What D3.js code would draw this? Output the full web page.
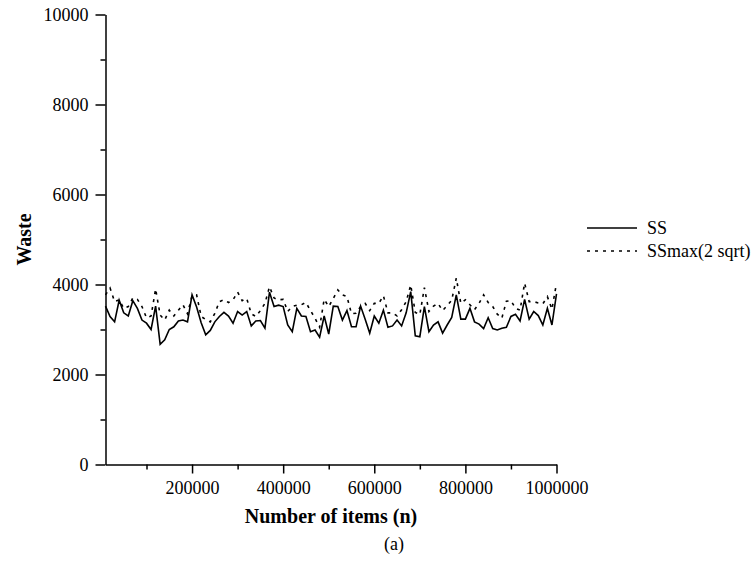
<!DOCTYPE html>
<html>
  <head>
    <meta charset="utf-8">
    <script src="https://d3js.org/d3.v7.min.js"></script>
    <style>
      body { margin: 0; background: #fff; }
      svg text { font-family: "Liberation Serif", "Times New Roman", serif; fill: #000; }
      .axis path, .axis line { stroke: #000; stroke-width: 1.5; }
      .axis text { font-size: 18px; }
    </style>
  </head>
<body>
<script>
// number of items, every 10000 from 10000 to 1000000
var items = d3.range(1, 101).map(function(i) { return i * 10000; });

var ssWaste = [
  3520, 3290, 3170, 3650, 3370, 3300, 3640, 3470, 3210, 3140,
  3000, 3520, 2670, 2770, 3000, 3060, 3190, 3210, 3170, 3770,
  3500, 3150, 2880, 2980, 3170, 3290, 3380, 3300, 3140, 3400,
  3320, 3400, 3080, 3190, 3200, 3030, 3830, 3510, 3540, 3510,
  3100, 2950, 3470, 3300, 3290, 2950, 2990, 2830, 3300, 2900,
  3520, 3510, 3210, 3420, 3060, 3060, 3520, 3230, 2920, 3300,
  3140, 3430, 3050, 3080, 3210, 3080, 3370, 3840, 2860, 2840,
  3510, 2950, 3100, 3170, 2920, 3100, 3270, 3770, 3230, 3230,
  3470, 3170, 3120, 3020, 3260, 3020, 2990, 3030, 3050, 3290,
  3340, 3190, 3670, 3230, 3400, 3310, 3100, 3470, 3100, 3790
];

var ssMaxWaste = [
  3770, 3920, 3620, 3660, 3470, 3510, 3700, 3670, 3510, 3260,
  3300, 3900, 3320, 3210, 3430, 3300, 3430, 3550, 3350, 3750,
  3770, 3290, 3220, 3170, 3360, 3620, 3660, 3600, 3660, 3830,
  3640, 3690, 3350, 3290, 3420, 3580, 3950, 3700, 3660, 3670,
  3400, 3510, 3540, 3550, 3600, 3420, 3250, 3050, 3670, 3510,
  3690, 3880, 3770, 3730, 3350, 3360, 3510, 3580, 3420, 3580,
  3580, 3750, 3370, 3370, 3300, 3440, 3620, 3990, 3380, 3330,
  3930, 3400, 3520, 3580, 3420, 3530, 3650, 4140, 3580, 3660,
  3550, 3440, 3580, 3770, 3600, 3510, 3340, 3250, 3630, 3640,
  3470, 3430, 4030, 3620, 3620, 3590, 3570, 3730, 3450, 4030
];

var xMajor = [200000, 400000, 600000, 800000, 1000000];
var xMinor = [100000, 300000, 500000, 700000, 900000];
var yMajor = [0, 2000, 4000, 6000, 8000, 10000];
var yMinor = [1000, 3000, 5000, 7000, 9000];

var series = [
  {name: "SS", values: ssWaste, dash: null},
  {name: "SSmax(2 sqrt)", values: ssMaxWaste, dash: "3,5"}
];

var width = 756, height = 561;
var plotLeft = 105.5, plotRight = 556.5, plotTop = 14.5, plotBottom = 464.5;

var svg = d3.select("body").append("svg")
    .attr("width", width)
    .attr("height", height);

var x = d3.scaleLinear().domain([10000, 1000000]).range([plotLeft, plotRight]);
var y = d3.scaleLinear().domain([0, 10000]).range([plotBottom, plotTop]);

// minor ticks first
svg.append("g").attr("class", "axis")
    .attr("transform", "translate(0," + plotBottom + ")")
    .call(d3.axisBottom(x).tickValues(xMinor).tickSize(5).tickSizeOuter(0).tickFormat(""))
    .select(".domain").remove();
svg.append("g").attr("class", "axis")
    .attr("transform", "translate(" + plotLeft + ",0)")
    .call(d3.axisLeft(y).tickValues(yMinor).tickSize(5).tickSizeOuter(0).tickFormat(""))
    .select(".domain").remove();

svg.append("g").attr("class", "axis")
    .attr("transform", "translate(0," + plotBottom + ")")
    .call(d3.axisBottom(x).tickValues(xMajor).tickSize(9).tickSizeOuter(0).tickPadding(8).tickFormat(d3.format("d")));
svg.append("g").attr("class", "axis")
    .attr("transform", "translate(" + plotLeft + ",0)")
    .call(d3.axisLeft(y).tickValues(yMajor).tickSize(10).tickSizeOuter(0).tickPadding(7).tickFormat(d3.format("d")));

var line = d3.line()
    .x(function(d, i) { return x(items[i]); })
    .y(function(d) { return y(d); });

svg.selectAll("path.series")
    .data(series)
    .enter().append("path")
    .attr("class", "series")
    .attr("fill", "none")
    .attr("stroke", "#000")
    .attr("stroke-width", 1.6)
    .attr("stroke-linejoin", "miter")
    .attr("stroke-dasharray", function(d) { return d.dash; })
    .attr("d", function(d) { return line(d.values); });

// legend
var legend = svg.selectAll("g.legend")
    .data(series)
    .enter().append("g")
    .attr("class", "legend")
    .attr("transform", function(d, i) { return "translate(587," + (228 + i * 23) + ")"; });
legend.append("line")
    .attr("x1", 0).attr("x2", 50)
    .attr("stroke", "#000")
    .attr("stroke-width", 1.6)
    .attr("stroke-dasharray", function(d) { return d.dash; });
legend.append("text")
    .attr("x", 60).attr("y", 5.5)
    .style("font-size", "18px")
    .text(function(d) { return d.name; });

svg.append("text")
    .attr("x", (plotLeft + plotRight) / 2)
    .attr("y", 523)
    .attr("text-anchor", "middle")
    .style("font-size", "20px")
    .style("font-weight", "bold")
    .text("Number of items (n)");

svg.append("text")
    .attr("transform", "translate(31," + (plotTop + plotBottom) / 2 + ") rotate(-90)")
    .attr("text-anchor", "middle")
    .style("font-size", "20px")
    .style("font-weight", "bold")
    .text("Waste");

svg.append("text")
    .attr("x", 394)
    .attr("y", 550)
    .attr("text-anchor", "middle")
    .style("font-size", "18px")
    .text("(a)");
</script>
</body>
</html>
